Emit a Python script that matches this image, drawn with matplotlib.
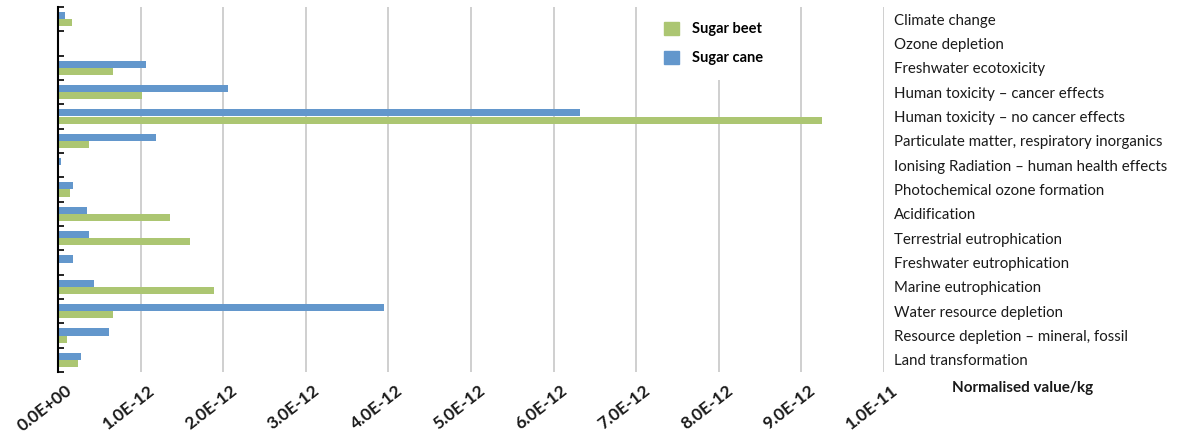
import matplotlib
matplotlib.use("Agg")
import matplotlib.pyplot as plt
import matplotlib.transforms as mtransforms
import numpy as np
from matplotlib.patches import Patch

plt.rcParams['font.family'] = ['Lato', 'DejaVu Sans']

categories = [
    "Climate change",
    "Ozone depletion",
    "Freshwater ecotoxicity",
    "Human toxicity \u2013 cancer effects",
    "Human toxicity \u2013 no cancer effects",
    "Particulate matter, respiratory inorganics",
    "Ionising Radiation \u2013 human health effects",
    "Photochemical ozone formation",
    "Acidification",
    "Terrestrial eutrophication",
    "Freshwater eutrophication",
    "Marine eutrophication",
    "Water resource depletion",
    "Resource depletion \u2013 mineral, fossil",
    "Land transformation",
]
sugar_beet = [0.17e-12, 0.01e-12, 0.66e-12, 1.02e-12, 9.25e-12, 0.38e-12, 0.015e-12, 0.14e-12,
              1.35e-12, 1.60e-12, 0.01e-12, 1.89e-12, 0.66e-12, 0.11e-12, 0.24e-12]
sugar_cane = [0.09e-12, 0.017e-12, 1.06e-12, 2.06e-12, 6.32e-12, 1.19e-12, 0.04e-12, 0.18e-12,
              0.35e-12, 0.38e-12, 0.18e-12, 0.44e-12, 3.95e-12, 0.62e-12, 0.28e-12]
xticks = [i * 1e-12 for i in range(11)]
xtick_labels = ["0.0E+00", "1.0E-12", "2.0E-12", "3.0E-12", "4.0E-12", "5.0E-12",
                "6.0E-12", "7.0E-12", "8.0E-12", "9.0E-12", "1.0E-11"]

GREEN = "#ACC672"
BLUE = "#6397CC"

fig = plt.figure(figsize=(11.94, 4.36), dpi=100)
ax = fig.add_axes([58/1194, 1-372/436, (884-58)/1194, (372-7)/436])

y = np.arange(len(categories))
h = 0.3
ax.barh(y - 0.15, sugar_cane, height=h, color=BLUE, zorder=3, label="Sugar cane")
ax.barh(y + 0.15, sugar_beet, height=h, color=GREEN, zorder=3, label="Sugar beet")

ax.set_xlim(0, 1e-11)
ax.set_ylim(len(categories) - 0.5, -0.5)

ax.set_xticks(xticks)
ax.set_xticklabels([""] * len(xticks))
ax.tick_params(axis='x', length=0)
base = mtransforms.blended_transform_factory(ax.transData, ax.transAxes)
off = mtransforms.ScaledTranslation(12/100, -17/100, fig.dpi_scale_trans)
for xv, lab in zip(xticks, xtick_labels):
    ax.text(xv, 0, lab, transform=base + off, rotation=38, rotation_mode='anchor',
            ha='right', va='center', fontsize=12.5, fontweight='bold', color='#1a1a1a',
            clip_on=False)

ax.set_yticks(y)
ax.set_yticklabels(categories, fontsize=10.8, color='#1a1a1a')
ax.set_yticks(np.arange(len(categories) + 1) - 0.5, minor=True)
ax.tick_params(axis='y', which='major', left=False, right=False, labelleft=False,
               labelright=True, pad=4)
ax.tick_params(axis='y', which='minor', left=True, right=False, direction='in',
               length=4, width=1.2, color='black')

ax.xaxis.grid(True, color='#cfcfcf', linewidth=1.4, zorder=0)
ax.set_axisbelow(True)
for s in ['top', 'right', 'bottom']:
    ax.spines[s].set_visible(False)
ax.spines['left'].set_linewidth(1.5)
ax.spines['left'].set_color('black')
ax.spines['left'].set_zorder(4)

handles = [Patch(color=GREEN, label="Sugar beet"), Patch(color=BLUE, label="Sugar cane")]
leg = ax.legend(handles=handles, loc='upper left', bbox_to_anchor=(0.716, 1.0),
                frameon=True, facecolor='white', edgecolor='none', framealpha=1,
                fontsize=10.5, handlelength=1.0, handleheight=1.0, handletextpad=0.9,
                labelspacing=1.0, borderpad=1.0, borderaxespad=0.0)
for t in leg.get_texts():
    t.set_fontweight('bold')
leg.get_frame().set_boxstyle('square', pad=0)
leg.set_zorder(5)

fig.text(952/1194, 1-388/436, "Normalised value/kg", fontsize=11, fontweight='bold',
         va='center', ha='left', color='#1a1a1a')

fig.savefig("out.png", dpi=100)
